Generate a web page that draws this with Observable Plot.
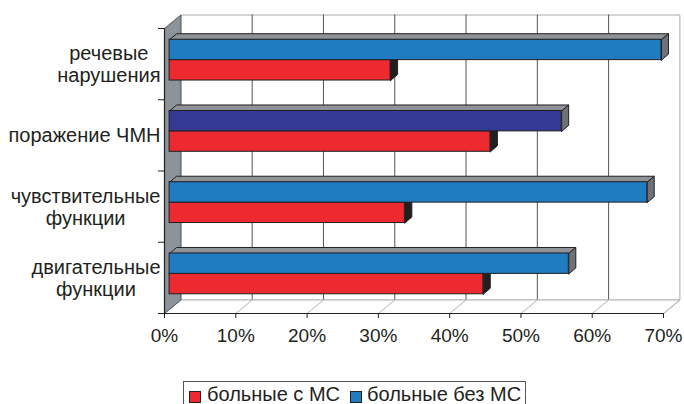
<!DOCTYPE html>
<html lang="ru">
<head>
<meta charset="utf-8">
<script src="https://cdn.jsdelivr.net/npm/d3@7"></script>
<script src="https://cdn.jsdelivr.net/npm/@observablehq/plot@0.6"></script>
<style>
  html, body { margin: 0; padding: 0; background: #fff; overflow: hidden; }
  #chart svg { display: block; }
  .legend {
    position: relative;
    margin-left: 183px;
    margin-top: 9px;
    width: 341px;
    height: 30px;
    border: 1px solid #555;
    font-family: "Liberation Sans", Arial, sans-serif;
    font-size: 20px;
    color: #231f20;
  }
  .legend .sw {
    position: absolute;
    top: 9px;
    width: 10px;
    height: 10px;
    border: 1px solid #231f20;
  }
  .legend .lbl { position: absolute; top: 1px; white-space: nowrap; }
</style>
</head>
<body>
<div id="chart"></div>
<div class="legend" id="legend"></div>
<script>
// Categories (top to bottom) and the two patient groups, in percent
const categories = ["речевые\nнарушения", "поражение ЧМН", "чувствительные\nфункции", "двигательные\nфункции"];
const withMS = [31, 45, 33, 44];      // больные с МС
const withoutMS = [69, 55, 67, 56];   // больные без МС
const seriesNames = ["больные с МС", "больные без МС"];
const xTicks = [0, 10, 20, 30, 40, 50, 60, 70];

// Palette
const RED = "#ec2a30";
const BLUE = "#1f7cc1";
const NAVY = "#343a93";
const EDGE = "#231f20";
const navyCategory = "поражение ЧМН";

// Frame geometry (pixels)
const W = 684, H = 372;
const X_LEFT = 164, X_RIGHT = 663, Y_TOP = 28, Y_BOTTOM = 313;
const kx = 70 / (X_RIGHT - X_LEFT);   // data units per pixel, x
const ky = 4 / (Y_BOTTOM - Y_TOP);    // data units per pixel, y
const DX = 16.4 * kx, DY = 13.5 * ky; // depth of the box
const BDX = 7 * kx, BDY = 6 * ky;     // depth of each bar
const BOFF = 5.1 * kx;                // bars sit a little inside the box
const BAR_H = 20.4 * ky;
const TICK_SIZE = 19;
const LABEL_SIZE = 20;

const polyRows = (list) =>
  list.flatMap(({id, pts}) => [...pts, pts[0]].map(([x, y]) => ({id, x, y})));

// Box: back wall, floor, left wall
const backWall = polyRows([{id: "back", pts: [[DX, DY], [70 + DX, DY], [70 + DX, 4 + DY], [DX, 4 + DY]]}]);
const floor = polyRows([{id: "floor", pts: [[0, 0], [DX, DY], [70 + DX, DY], [70, 0]]}]);
const leftWall = polyRows([{id: "left", pts: [[0, 0], [0, 4], [DX, 4 + DY], [DX, DY]]}]);

// Bars
const rows = categories.map((c, i) => {
  const mid = (3.5 - i) + 4 * ky;
  return {
    category: c,
    i,
    red: {x1: BOFF, x2: BOFF + withMS[i], y1: mid - BAR_H, y2: mid},
    blue: {x1: BOFF, x2: BOFF + withoutMS[i], y1: mid, y2: mid + BAR_H},
    blueFill: c === navyCategory ? NAVY : BLUE
  };
});
const redFront = rows.map(r => r.red);
const blueFront = rows.map(r => ({...r.blue, fill: r.blueFill}));
const endFace = (b, id) => ({id, pts: [[b.x2, b.y1], [b.x2, b.y2], [b.x2 + BDX, b.y2 + BDY], [b.x2 + BDX, b.y1 + BDY]]});
const topFace = (b, id) => ({id, pts: [[b.x1, b.y2], [b.x1 + BDX, b.y2 + BDY], [b.x2 + BDX, b.y2 + BDY], [b.x2, b.y2]]});
const redEnds = polyRows(rows.map((r, i) => endFace(r.red, "re" + i)));
const redTops = polyRows(rows.map((r, i) => topFace(r.red, "rt" + i)));
const blueEnds = polyRows(rows.map((r, i) => endFace(r.blue, "be" + i)));
const blueTops = polyRows(rows.map((r, i) => topFace(r.blue, "bt" + i)));

// Category labels: lines centred on each other, block right-aligned at the axis
const ctx = document.createElement("canvas").getContext("2d");
ctx.font = `${LABEL_SIZE}px "Liberation Sans"`;
const labels = categories.map((c, i) => {
  const w = Math.max(...c.split("\n").map(s => ctx.measureText(s).width));
  const cx = (X_LEFT - 4) - w / 2;
  return {text: c, x: (cx - X_LEFT) * kx, y: 3.5 - i};
});

const chart = Plot.plot({
  width: W,
  height: H,
  marginLeft: X_LEFT,
  marginRight: W - X_RIGHT,
  marginTop: Y_TOP,
  marginBottom: H - Y_BOTTOM,
  x: {domain: [0, 70], axis: null},
  y: {domain: [0, 4], axis: null},
  style: {fontFamily: "'Liberation Sans', Arial, sans-serif", fontSize: TICK_SIZE + "px", color: EDGE, background: "#fff", overflow: "visible"},
  marks: [
    Plot.line(backWall, {x: "x", y: "y", z: "id", fill: "#fff", stroke: "#aaa", strokeWidth: 1}),
    Plot.line(floor, {x: "x", y: "y", z: "id", fill: "#fff", stroke: "#b4b4b4", strokeWidth: 1}),
    Plot.ruleX(xTicks.slice(1, -1), {x: d => d + DX, y1: DY, y2: 4 + DY, stroke: "#555", strokeWidth: 1}),
    Plot.link(xTicks.slice(1), {x1: d => d, y1: 0, x2: d => d + DX, y2: DY, stroke: "#b4b4b4", strokeWidth: 1}),
    Plot.line(leftWall, {x: "x", y: "y", z: "id", fill: "#8c939a", stroke: "#555", strokeWidth: 1, strokeLinejoin: "miter"}),
    Plot.ruleX([0], {y1: 0, y2: 4, stroke: EDGE, strokeWidth: 1.2}),
    Plot.ruleY([0], {x1: 0, x2: 70, stroke: EDGE, strokeWidth: 1.2}),
    Plot.ruleY([0, 1, 2, 3, 4], {x1: -6 * kx, x2: 0, stroke: EDGE, strokeWidth: 1}),
    Plot.axisX({ticks: xTicks, tickFormat: d => d + "%", tickSize: 5, tickPadding: 10, stroke: EDGE, fill: EDGE}),
    // bars with MS (lower of each pair)
    Plot.line(redTops, {x: "x", y: "y", z: "id", fill: "#8f9398", stroke: EDGE, strokeWidth: 1, strokeLinejoin: "miter"}),
    Plot.line(redEnds, {x: "x", y: "y", z: "id", fill: "#231f20", stroke: EDGE, strokeWidth: 1, strokeLinejoin: "miter"}),
    Plot.rect(redFront, {x1: "x1", x2: "x2", y1: "y1", y2: "y2", fill: RED, stroke: EDGE, strokeWidth: 1}),
    // bars without MS (upper of each pair)
    Plot.line(blueTops, {x: "x", y: "y", z: "id", fill: "#8f9398", stroke: EDGE, strokeWidth: 1, strokeLinejoin: "miter"}),
    Plot.line(blueEnds, {x: "x", y: "y", z: "id", fill: "#6d7278", stroke: EDGE, strokeWidth: 1, strokeLinejoin: "miter"}),
    Plot.rect(blueFront, {x1: "x1", x2: "x2", y1: "y1", y2: "y2", fill: "fill", stroke: EDGE, strokeWidth: 1}),
    Plot.text(labels, {x: "x", y: "y", text: "text", textAnchor: "middle", lineHeight: 1.1, fontSize: LABEL_SIZE, fill: EDGE})
  ]
});
document.getElementById("chart").append(chart);

// Legend
const legend = document.getElementById("legend");
const legendItems = [
  {name: seriesNames[0], color: RED, sw: 5, lbl: 23},
  {name: seriesNames[1], color: BLUE, sw: 166, lbl: 183}
];
for (const it of legendItems) {
  const sw = document.createElement("span");
  sw.className = "sw";
  sw.style.left = it.sw + "px";
  sw.style.background = it.color;
  const lbl = document.createElement("span");
  lbl.className = "lbl";
  lbl.style.left = it.lbl + "px";
  lbl.textContent = it.name;
  legend.append(sw, lbl);
}
</script>
</body>
</html>
